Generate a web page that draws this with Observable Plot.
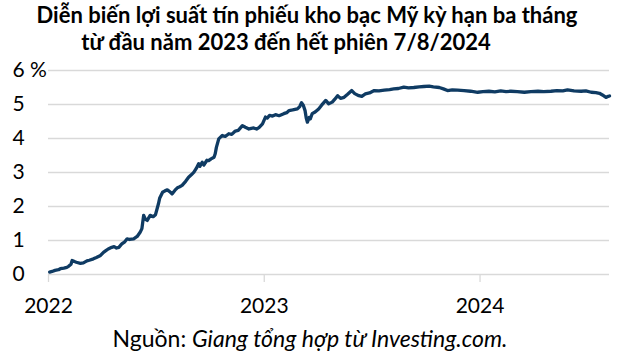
<!DOCTYPE html>
<html>
<head>
<meta charset="utf-8">
<script src="https://cdn.jsdelivr.net/npm/d3@7"></script>
<script src="https://cdn.jsdelivr.net/npm/@observablehq/plot@0.6"></script>
<style>
  body { margin: 0; background: #fff; font-family: Lato, "Open Sans", sans-serif; }
  #wrap { width: 632px; height: 358px; position: relative; overflow: hidden; }
  .tline { position: absolute; width: 632px; text-align: center; font-weight: bold; font-size: 22px; line-height: 27px; color: #000; white-space: nowrap; z-index: 2; }
  #t1 { left: -9px; top: 1px; }
  #t2 { left: -30px; top: 28px; }
  #chart { position: absolute; left: 0; top: 50px; z-index: 1; }
  #chart svg { overflow: visible; }
  #caption { position: absolute; left: -6px; top: 324px; width: 632px; text-align: center; font-size: 23px; line-height: 28px; color: #000; white-space: nowrap; }
</style>
</head>
<body>
<div id="wrap">
  <div class="tline" id="t1">Diễn biến lợi suất tín phiếu kho bạc Mỹ kỳ hạn ba tháng</div>
  <div class="tline" id="t2">từ đầu năm 2023 đến hết phiên 7/8/2024</div>
  <div id="chart"></div>
  <div id="caption">Nguồn: <i>Giang tổng hợp từ Investing.com.</i></div>
</div>
<script>
const dates = [
"2022-01-03","2022-01-07","2022-01-12","2022-01-18","2022-01-21","2022-01-27","2022-02-01","2022-02-04","2022-02-08","2022-02-10",
"2022-02-14","2022-02-17","2022-02-24","2022-03-01","2022-03-07","2022-03-11","2022-03-18","2022-03-23","2022-03-30","2022-04-04",
"2022-04-08","2022-04-12","2022-04-18","2022-04-22","2022-04-26","2022-04-30","2022-05-05","2022-05-10","2022-05-14","2022-05-18",
"2022-05-25","2022-05-31","2022-06-05","2022-06-08","2022-06-11","2022-06-14","2022-06-17","2022-06-20","2022-06-22","2022-06-27",
"2022-07-01","2022-07-06","2022-07-08","2022-07-13","2022-07-17","2022-07-21","2022-07-25","2022-07-29","2022-08-03","2022-08-07",
"2022-08-11","2022-08-15","2022-08-21","2022-08-26","2022-08-31","2022-09-04","2022-09-08","2022-09-12","2022-09-14","2022-09-18",
"2022-09-21","2022-09-23","2022-09-26","2022-09-29","2022-10-03","2022-10-08","2022-10-10","2022-10-12","2022-10-16","2022-10-19",
"2022-10-22","2022-10-27","2022-11-02","2022-11-07","2022-11-13","2022-11-18","2022-11-25","2022-11-30","2022-12-06","2022-12-10",
"2022-12-14","2022-12-19","2022-12-23","2022-12-29","2023-01-03","2023-01-06","2023-01-10","2023-01-15","2023-01-20","2023-01-26",
"2023-02-03","2023-02-08","2023-02-12","2023-02-18","2023-02-26","2023-03-02","2023-03-05","2023-03-08","2023-03-11","2023-03-13",
"2023-03-15","2023-03-18","2023-03-20","2023-03-23","2023-03-28","2023-04-03","2023-04-08","2023-04-15","2023-04-20","2023-04-26",
"2023-04-30","2023-05-05","2023-05-10","2023-05-16","2023-05-22","2023-05-29","2023-06-03","2023-06-10","2023-06-15","2023-06-21",
"2023-06-28","2023-07-06","2023-07-14","2023-07-23","2023-08-01","2023-08-08","2023-08-16","2023-08-25","2023-09-02","2023-09-11",
"2023-09-20","2023-09-28","2023-10-07","2023-10-14","2023-10-24","2023-10-31","2023-11-07","2023-11-15","2023-11-24","2023-12-05",
"2023-12-16","2023-12-28","2024-01-06","2024-01-16","2024-01-26","2024-02-05","2024-02-14","2024-02-22","2024-03-04","2024-03-16",
"2024-03-27","2024-04-08","2024-04-18","2024-04-30","2024-05-10","2024-05-20","2024-05-28","2024-06-08","2024-06-20","2024-06-28",
"2024-07-07","2024-07-15","2024-07-21","2024-07-26","2024-08-01","2024-08-05","2024-08-07"
];
const yields = [
0.07,0.09,0.12,0.14,0.17,0.19,0.21,0.24,0.30,0.41,
0.38,0.36,0.33,0.34,0.40,0.42,0.46,0.50,0.56,0.65,
0.70,0.75,0.80,0.82,0.78,0.80,0.90,0.96,1.05,1.03,
1.05,1.12,1.24,1.35,1.74,1.62,1.59,1.68,1.74,1.70,
1.76,2.08,2.24,2.42,2.46,2.49,2.44,2.37,2.48,2.55,
2.58,2.62,2.74,2.86,2.94,3.01,3.12,3.26,3.18,3.30,
3.22,3.28,3.36,3.35,3.40,3.45,3.55,3.74,3.99,4.04,
4.09,4.06,4.14,4.12,4.22,4.24,4.38,4.33,4.28,4.30,
4.31,4.28,4.32,4.43,4.63,4.60,4.68,4.66,4.70,4.67,
4.73,4.76,4.82,4.84,4.87,4.94,5.05,4.98,4.82,4.60,
4.48,4.62,4.58,4.73,4.78,4.87,4.98,5.12,5.02,5.07,
5.15,5.26,5.18,5.21,5.30,5.41,5.32,5.26,5.24,5.31,
5.34,5.41,5.40,5.42,5.44,5.46,5.47,5.51,5.49,5.50,
5.52,5.53,5.54,5.52,5.50,5.46,5.41,5.43,5.42,5.41,
5.39,5.36,5.38,5.39,5.37,5.40,5.38,5.39,5.38,5.36,
5.38,5.39,5.38,5.39,5.41,5.40,5.43,5.40,5.39,5.40,
5.36,5.35,5.33,5.28,5.21,5.24,5.25
];
const yTicks = [0, 1, 2, 3, 4, 5, 6];
const yTickLabels = ["0", "1", "2", "3", "4", "5", "6 %"];
const xTicks = ["2022-01-01", "2023-01-01", "2024-01-01"];
const xTickLabels = ["2022", "2023", "2024"];
const xDomain = ["2022-01-01", "2024-08-07"];

const data = dates.map((d, i) => ({date: new Date(d + "T00:00:00Z"), value: yields[i]}));
const xTickDates = xTicks.map(d => new Date(d + "T00:00:00Z"));

const chart = Plot.plot({
  width: 632,
  height: 272,
  marginLeft: 48,
  marginRight: 23,
  marginTop: 20,
  marginBottom: 48,
  style: {fontFamily: "Lato, 'Open Sans', sans-serif", fontSize: "21px", color: "#000", background: "transparent", overflow: "visible"},
  x: {type: "utc", domain: xDomain.map(d => new Date(d + "T00:00:00Z"))},
  y: {domain: [0, 6]},
  marks: [
    Plot.ruleY(yTicks, {stroke: "#d9d9d9", strokeWidth: 1.3}),
    Plot.axisY({ticks: yTicks, tickSize: 0, tickPadding: 0, textAnchor: "start", dx: -36,
      tickFormat: d => yTickLabels[yTicks.indexOf(d)], label: null, fill: "#000"}),
    Plot.axisX({ticks: xTickDates, tickSize: 8, tickPadding: 16, stroke: "#d9d9d9", strokeWidth: 1.3,
      tickFormat: d => xTickLabels[xTickDates.findIndex(t => +t === +d)], label: null, fill: "#000"}),
    Plot.lineY(data, {x: "date", y: "value", stroke: "#0f3b63", strokeWidth: 3.3, strokeLinejoin: "round"})
  ]
});
document.getElementById("chart").appendChild(chart);
</script>
</body>
</html>
